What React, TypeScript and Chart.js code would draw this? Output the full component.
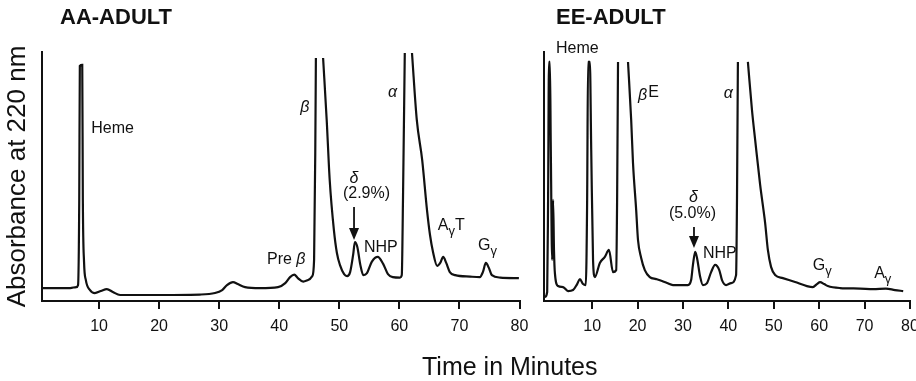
import React, { useEffect, useRef } from "react";
import { Chart, registerables } from "chart.js";

Chart.register(...registerables);

const FONT = '"Liberation Sans", Arial, Helvetica, sans-serif';
const INK = "#111";

// x-axis tick values (minutes)
const tickValues = [10, 20, 30, 40, 50, 60, 70, 80];

// AA-ADULT chromatogram (time in minutes, absorbance in % of full scale; null = pen off scale)
const aaTime = [
  0.5, 5.2, 6.2, 6.5, 6.7, 6.8, 7.2, 7.3, 7.5, 7.8, 8.5, 9.3, 10.3, 11.3, 12.3, 13.5, 18.5, 26.8, 29.3,
  30.5, 31.3, 32.3, 33.1, 34.3, 36.8, 39.8, 41.0, 41.8, 42.5, 43.1, 44.0, 44.8, 45.5, 45.8, 46.0, 46.1,
  46.7, 47.3, 47.9, 48.4, 49.1, 49.6, 50.1, 50.8, 51.3, 51.8, 52.3, 52.6, 53.0, 53.5, 54.0, 54.6, 55.4,
  56.4, 57.3, 58.1, 58.9, 60.1, 60.4, 60.6, 60.9, 61.5, 62.1, 62.9, 63.8, 64.6, 65.1, 65.6, 66.3, 66.8,
  67.3, 67.8, 68.4, 69.3, 71.8, 73.4, 73.9, 74.4, 74.9, 75.4, 76.8, 79.9,
];
const aaAbs = [
  5.2, 5.2, 5.6, 6.4, 40.6, 94.4, 94.8, 40.6, 15.7, 8.4, 4.4, 3.2, 4.0, 4.8, 3.6, 2.4, 2.4, 2.6, 3.2,
  4.4, 6.4, 7.6, 6.8, 5.6, 5.2, 5.6, 7.2, 9.6, 10.6, 9.2, 7.8, 8.4, 10.0, 16.5, 60.6, 97.6,
  null, 97.6, 72.7, 48.6, 28.5, 19.3, 14.5, 10.8, 10.0, 11.6, 18.5, 23.7, 21.7, 14.5, 10.4, 11.2, 15.7,
  17.7, 14.9, 10.8, 9.6, 9.4, 10.4, 40.6, 99.6, null, 99.6, 72.7, 56.6, 36.5, 26.5, 19.7, 14.1, 15.3,
  17.7, 15.3, 11.6, 10.4, 9.8, 9.6, 11.6, 15.3, 13.3, 10.4, 9.4, 9.2,
];

// EE-ADULT chromatogram
const eeTime = [
  -0.4, 0.1, 0.3, 0.5, 0.7, 0.9, 1.2, 1.4, 1.6, 1.8, 2.5, 3.6, 4.7, 5.8, 6.7, 7.3, 8.0, 8.6, 8.9, 9.1,
  9.5, 9.8, 10.2, 10.6, 11.7, 12.8, 13.7, 14.6, 15.3, 15.5, 15.7, 16.8, 17.9, 18.6, 19.0, 19.7, 20.1,
  20.8, 21.6, 22.7, 24.1, 25.4, 26.5, 27.8, 31.1, 31.8, 32.2, 32.7, 33.1, 33.8, 34.4, 35.3, 36.2, 37.1,
  38.0, 38.6, 39.5, 40.6, 41.7, 41.9, 42.1, 43.2, 44.3, 45.2, 45.9, 47.0, 48.1, 48.7, 49.4, 50.3, 52.0,
  54.7, 57.3, 58.6, 59.5, 60.2, 61.1, 61.9, 64.6, 69.0, 71.9, 74.7, 76.7, 78.5,
];
const eeAbs = [
  1.6, 3.6, 40.6, 96.0, 96.0, 60.6, 16.5, 40.6, 20.5, 11.2, 6.0, 5.6, 4.0, 4.4, 6.8, 8.8, 6.8, 6.4, 40.6, 96.0,
  96.0, 60.6, 16.5, 9.6, 15.3, 17.7, 20.5, 11.6, 12.4, 40.6, 96.0, null, 96.0, 72.7, 55.4, 36.5, 24.5,
  17.3, 12.4, 9.6, 8.8, 8.0, 7.2, 6.4, 6.4, 8.4, 14.5, 19.7, 17.3, 9.6, 6.4, 7.2, 11.6, 14.5,
  12.4, 8.4, 6.4, 7.2, 10.4, 40.6, 96.0, null, 96.0, 76.7, 64.7, 46.6, 31.3, 20.5, 13.7, 10.4, 9.2,
  7.6, 6.0, 5.6, 6.8, 7.6, 6.8, 6.0, 5.2, 5.0, 4.8, 5.0, 4.4, 4.0,
];

// peak labels: [text, style] parts placed at (time, absorbance)
type Part = [string, "n" | "i" | "sub" | "sup"];
type Label = { t: number; v: number; parts: Part[]; center?: boolean };
type Arrow = { t: number; from: number; to: number };

const aaLabels: Label[] = [
  { t: 8.7, v: 67.5, parts: [["Heme", "n"]] },
  { t: 43.5, v: 75.9, parts: [["β", "i"]] },
  { t: 58.1, v: 81.9, parts: [["α", "i"]] },
  { t: 52.45, v: 47.4, parts: [["δ", "i"]], center: true },
  { t: 50.6, v: 41.4, parts: [["(2.9%)", "n"]] },
  { t: 54.1, v: 19.7, parts: [["NHP", "n"]] },
  { t: 37.96, v: 14.9, parts: [["Pre ", "n"], ["β", "i"]] },
  { t: 66.4, v: 28.5, parts: [["A", "n"], ["γ", "sub"], ["T", "n"]] },
  { t: 73.1, v: 20.5, parts: [["G", "n"], ["γ", "sub"]] },
];
const aaArrows: Arrow[] = [{ t: 52.45, from: 37.8, to: 24.5 }];

const eeLabels: Label[] = [
  { t: 2.04, v: 99.6, parts: [["Heme", "n"]] },
  { t: 20.1, v: 80.7, parts: [["β", "i"], ["E", "sup"]] },
  { t: 39.0, v: 81.5, parts: [["α", "i"]] },
  { t: 32.3, v: 39.8, parts: [["δ", "i"]], center: true },
  { t: 26.9, v: 33.3, parts: [["(5.0%)", "n"]] },
  { t: 34.4, v: 17.3, parts: [["NHP", "n"]] },
  { t: 58.6, v: 12.4, parts: [["G", "n"], ["γ", "sub"]] },
  { t: 72.1, v: 9.2, parts: [["A", "n"], ["γ", "sub"]] },
];
const eeArrows: Arrow[] = [{ t: 32.43, from: 29.7, to: 21.3 }];

const labelPlugin = {
  id: "peakLabels",
  afterDraw(chart: any, _args: any, opts: any) {
    const { ctx } = chart;
    const xs = chart.scales.x;
    const ys = chart.scales.y;
    ctx.save();
    ctx.fillStyle = INK;
    ctx.strokeStyle = INK;
    // panel title
    if (opts.title) {
      ctx.font = `bold 22px ${FONT}`;
      ctx.textBaseline = "alphabetic";
      ctx.textAlign = "left";
      ctx.fillText(opts.title, opts.titleX, 24);
    }
    const fontFor = (s: string) =>
      s === "i" ? `italic 16px ${FONT}` : s === "sub" || s === "sup" ? `13px ${FONT}` : `16px ${FONT}`;
    for (const lab of opts.labels as Label[]) {
      let x = xs.getPixelForValue(lab.t);
      const y = ys.getPixelForValue(lab.v);
      ctx.textBaseline = "alphabetic";
      ctx.textAlign = "left";
      if (lab.center) {
        let w = 0;
        for (const [txt, st] of lab.parts) {
          ctx.font = fontFor(st);
          w += ctx.measureText(txt).width;
        }
        x -= w / 2;
      }
      for (const [txt, st] of lab.parts) {
        ctx.font = fontFor(st);
        const dy = st === "sub" ? 5 : st === "sup" ? -3 : 0;
        const fx = st === "sup" ? `16px ${FONT}` : null;
        if (fx) ctx.font = fx;
        ctx.fillText(txt, x, y + dy);
        x += ctx.measureText(txt).width + (st === "i" ? 1 : 0);
      }
    }
    for (const a of opts.arrows as Arrow[]) {
      const x = xs.getPixelForValue(a.t);
      const y1 = ys.getPixelForValue(a.from);
      const y2 = ys.getPixelForValue(a.to);
      const head = 12;
      ctx.lineWidth = 1.8;
      ctx.beginPath();
      ctx.moveTo(x, y1);
      ctx.lineTo(x, y2 - head + 1);
      ctx.stroke();
      ctx.beginPath();
      ctx.moveTo(x - 5, y2 - head);
      ctx.lineTo(x + 5, y2 - head);
      ctx.lineTo(x, y2);
      ctx.closePath();
      ctx.fill();
    }
    ctx.restore();
  },
};

function makeConfig(
  time: number[],
  abs: (number | null)[],
  xmin: number,
  yWidth: number,
  padRight: number,
  withYTitle: boolean,
  title: string,
  titleX: number,
  labels: Label[],
  arrows: Arrow[]
): any {
  return {
    type: "line",
    data: {
      datasets: [
        {
          data: time.map((t, i) => ({ x: t, y: abs[i] })),
          borderColor: INK,
          borderWidth: 2.2,
          pointRadius: 0,
          fill: false,
          spanGaps: false,
          cubicInterpolationMode: "monotone",
        },
      ],
    },
    options: {
      responsive: false,
      animation: false,
      devicePixelRatio: 1,
      layout: { autoPadding: false, padding: { top: 52, left: 0, right: padRight, bottom: 0 } },
      plugins: {
        legend: { display: false },
        tooltip: { enabled: false },
        title: { display: false },
        peakLabels: { title, titleX, labels, arrows },
      },
      scales: {
        x: {
          type: "linear",
          min: xmin,
          max: 80,
          afterBuildTicks: (s: any) => {
            s.ticks = tickValues.map((v) => ({ value: v }));
          },
          afterFit: (s: any) => {
            s.height = 80;
            s.paddingLeft = 0;
            s.paddingRight = 0;
          },
          grid: {
            display: true,
            drawOnChartArea: false,
            drawTicks: true,
            tickLength: 8,
            color: INK,
            lineWidth: 2,
          },
          border: { display: true, color: INK, width: 2 },
          ticks: {
            color: INK,
            padding: 8,
            maxRotation: 0,
            autoSkip: false,
            font: { family: FONT, size: 16 },
          },
        },
        y: {
          type: "linear",
          min: 0,
          max: 100,
          afterFit: (s: any) => {
            s.width = yWidth;
          },
          grid: { display: false },
          border: { display: true, color: INK, width: 2 },
          ticks: { display: false },
          title: {
            display: withYTitle,
            text: "Absorbance at 220 nm",
            color: INK,
            font: { family: FONT, size: 26, lineHeight: 1.2 },
            padding: { top: 2, bottom: 0 },
          },
        },
      },
    },
    plugins: [labelPlugin],
  };
}

function Panel(props: { left: number; width: number; cfg: any }) {
  const ref = useRef<HTMLCanvasElement | null>(null);
  useEffect(() => {
    if (!ref.current) return;
    const chart = new Chart(ref.current, props.cfg);
    return () => chart.destroy();
  }, []);
  return (
    <canvas
      ref={ref}
      width={props.width}
      height={381}
      style={{ position: "absolute", left: props.left, top: 0, width: props.width, height: 381 }}
    />
  );
}

export default function App() {
  const leftCfg = makeConfig(aaTime, aaAbs, 0.5, 42, 10.5, true, "AA-ADULT", 60, aaLabels, aaArrows);
  const rightCfg = makeConfig(eeTime, eeAbs, -0.6, 14, 6, false, "EE-ADULT", 26, eeLabels, eeArrows);
  return (
    <div
      style={{
        position: "fixed",
        left: 0,
        top: 0,
        width: 916,
        height: 381,
        background: "#fff",
        overflow: "hidden",
      }}
    >
      <Panel left={0} width={530} cfg={leftCfg} />
      <Panel left={530} width={386} cfg={rightCfg} />
      <div
        style={{
          position: "absolute",
          left: 422,
          top: 354,
          fontFamily: FONT,
          fontSize: 25,
          lineHeight: "25px",
          color: INK,
          whiteSpace: "nowrap",
        }}
      >
        Time in Minutes
      </div>
    </div>
  );
}
